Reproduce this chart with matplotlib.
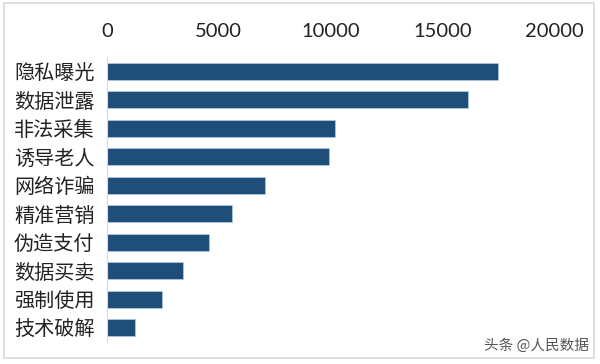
import matplotlib
matplotlib.use("Agg")
import matplotlib.pyplot as plt
from matplotlib.patches import Rectangle

categories = ["隐私曝光", "数据泄露", "非法采集", "诱导老人", "网络诈骗",
              "精准营销", "伪造支付", "数据买卖", "强制使用", "技术破解"]
values = [17500, 16150, 10200, 9950, 7080, 5600, 4580, 3400, 2460, 1240]
xticks = [0, 5000, 10000, 15000, 20000]

plt.rcParams['font.family'] = ['Noto Sans CJK SC', 'DejaVu Sans']

fig = plt.figure(figsize=(6, 3.64), dpi=100)
ax = fig.add_axes([107 / 600, 1 - 342 / 364, (554 - 107) / 600, (342 - 57) / 364])

pos = list(range(len(categories)))
ax.barh(pos, values, height=0.58, color="#1f4e79", edgecolor="#a9c8e6", linewidth=0.6)
ax.set_ylim(len(categories) - 0.5, -0.5)
ax.set_xlim(0, 20000)

ax.set_yticks(pos)
ax.set_yticklabels(categories, fontsize=14.5, color="#222222")
ax.set_xticks(xticks)
ax.set_xticklabels([str(t) for t in xticks], family="Lato", fontsize=14.5, color="#222222")
ax.xaxis.tick_top()
ax.tick_params(axis="x", length=0, pad=12)
ax.tick_params(axis="y", length=0, pad=9)

for s in ["top", "right", "bottom"]:
    ax.spines[s].set_visible(False)
ax.spines["left"].set_color("#d9d9d9")
ax.spines["left"].set_linewidth(0.8)

fig.patches.append(Rectangle((4 / 600, 6 / 364), 590 / 600, 355 / 364,
                             transform=fig.transFigure, fill=False,
                             edgecolor="#d9d9d9", linewidth=1.2))

fig.text(589 / 600, 1 - 346 / 364, "头条 @人民数据", ha="right", va="center",
         fontsize=10.5, color="#555555")

fig.savefig("out.png", dpi=100)
